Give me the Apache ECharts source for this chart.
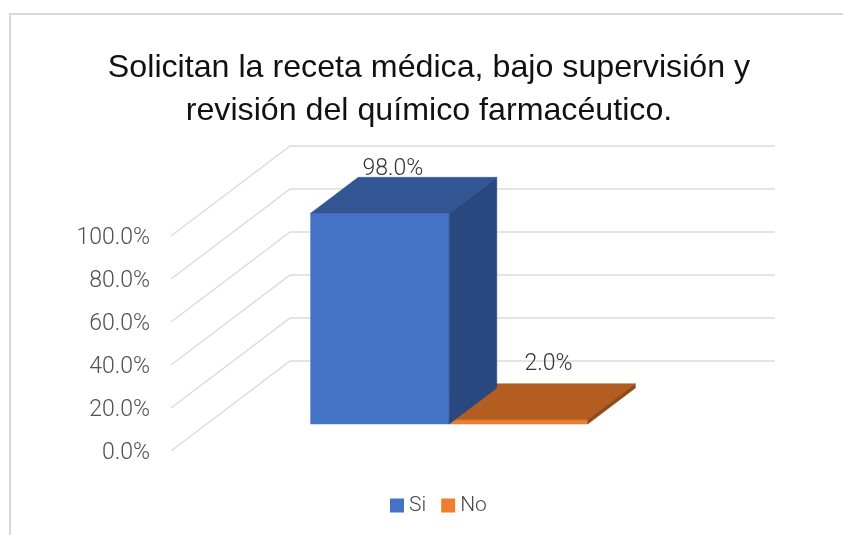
<!DOCTYPE html>
<html><head><meta charset="utf-8">
<style>html,body{margin:0;padding:0;background:#fff}#c{width:843px;height:535px}</style>
<script src="https://cdn.jsdelivr.net/npm/echarts@6/dist/echarts.min.js"></script>
</head><body><div id="c"></div>
<script>
const title = 'Solicitan la receta médica, bajo supervisión y\nrevisión del químico farmacéutico.';
const categories = ['Respuesta'];
const seriesNames = ['Si', 'No'];
const siValues = [98.0];
const noValues = [2.0];
const yTicks = [0, 20, 40, 60, 80, 100];

const FONT = 'Roboto,sans-serif';
const DEPTH_X = 119, DEPTH_Y = -90;        // oblique projection of the full floor depth
const BAR_NEAR = 0.3, BAR_FAR = 0.7;       // bar's slice of the floor depth
const GAP_WIDTH = 1.5;                     // gap as share of bar width
const palette = {
  Si: {front:'#4472c4', top:'#335593', side:'#2a4880'},
  No: {front:'#ed7d31', top:'#b35e20', side:'#8f4a18'}
};
const labelShift = {Si:[13, -44], No:[30, -55]};
const pt = (p, d) => [p[0] + DEPTH_X * d, p[1] + DEPTH_Y * d];

function gridItem(params, api) {
  const v = api.value(0);
  const front = api.coord([0, v]);
  const band = api.size([1, 0])[0];
  const back = pt(front, 1);
  const rightEnd = [front[0] + band / 2 + DEPTH_X, back[1]];
  const leftFront = [front[0] - band / 2, front[1]];
  const leftBack = pt(leftFront, 1);
  return {type:'polyline', silent:true, z2:0,
    shape:{points:[leftFront, leftBack, rightEnd]},
    style:{fill:null, stroke:'#dcdcdc', lineWidth:1.5}};
}
function barItem(name, idx) {
  return function (params, api) {
    const v = api.value(1);
    const base = api.coord([0, 0]);
    const top = api.coord([0, v]);
    const band = api.size([1, 0])[0];
    const w = band / (seriesNames.length + GAP_WIDTH);
    const x0 = base[0] + (idx - seriesNames.length / 2) * w;
    const x1 = x0 + w;
    const c = palette[name];
    const fb = pt([x0, base[1]], BAR_NEAR), fb2 = pt([x1, base[1]], BAR_NEAR);
    const ft = pt([x0, top[1]], BAR_NEAR), ft2 = pt([x1, top[1]], BAR_NEAR);
    const bt = pt([x0, top[1]], BAR_FAR), bt2 = pt([x1, top[1]], BAR_FAR);
    const bb2 = pt([x1, base[1]], BAR_FAR);
    const poly = (pts, fill) => ({type:'polygon', shape:{points:pts}, style:{fill:fill, stroke:fill, lineWidth:0.5}});
    const s = labelShift[name];
    return {type:'group', children:[
      poly([fb, fb2, ft2, ft], c.front),
      poly([ft, ft2, bt2, bt], c.top),
      poly([fb2, bb2, bt2, ft2], c.side),
      {type:'text', z2:10, style:{
        x:(ft[0] + ft2[0]) / 2 + s[0], y:ft[1] + s[1],
        text:v.toFixed(1) + '%', align:'center', verticalAlign:'middle',
        font:'300 23px ' + FONT, fill:'#333333'}}
    ]};
  };
}
const chart = echarts.init(document.getElementById('c'), null, {renderer:'canvas'});
chart.setOption({
  animation:false,
  backgroundColor:'#fff',
  title:{text:title, left:424, top:42, textAlign:'center',
    textStyle:{fontFamily:'"Liberation Sans"', fontSize:32.2, fontWeight:'normal', color:'#111', lineHeight:43}},
  graphic:[{type:'rect', z:-1, silent:true, shape:{x:10, y:14, width:860, height:560},
    style:{fill:'#fff', stroke:'#d9d9d9', lineWidth:2}}],
  legend:{left:390, top:495, padding:0, itemWidth:14, itemHeight:14, itemGap:15,
    data:seriesNames.map(n => ({name:n, icon:'rect', itemStyle:{color:palette[n].front}})),
    textStyle:{fontFamily:FONT, fontWeight:300, fontSize:21, color:'#484848'}},
  grid:{left:171, top:236, width:485, height:215},
  xAxis:{type:'category', data:categories, show:false},
  yAxis:{type:'value', min:0, max:100, interval:20,
    axisLine:{show:false}, axisTick:{show:false}, splitLine:{show:false},
    axisLabel:{margin:21, formatter:v => '{t|' + v.toFixed(1) + '%}',
      rich:{t:{padding:[5,0,0,0], fontFamily:FONT, fontWeight:300, fontSize:23, color:'#505050'}}}},
  series:[
    {type:'custom', name:'rejilla', data:yTicks.map(v => [v]), encode:{y:0}, renderItem:gridItem, silent:true, z:1},
    {type:'custom', name:'Si', data:siValues.map((v,i) => [i, v]), encode:{x:0,y:1}, renderItem:barItem('Si',0), itemStyle:{color:palette.Si.front}, z:3},
    {type:'custom', name:'No', data:noValues.map((v,i) => [i, v]), encode:{x:0,y:1}, renderItem:barItem('No',1), itemStyle:{color:palette.No.front}, z:2}
  ]
});
</script></body></html>
